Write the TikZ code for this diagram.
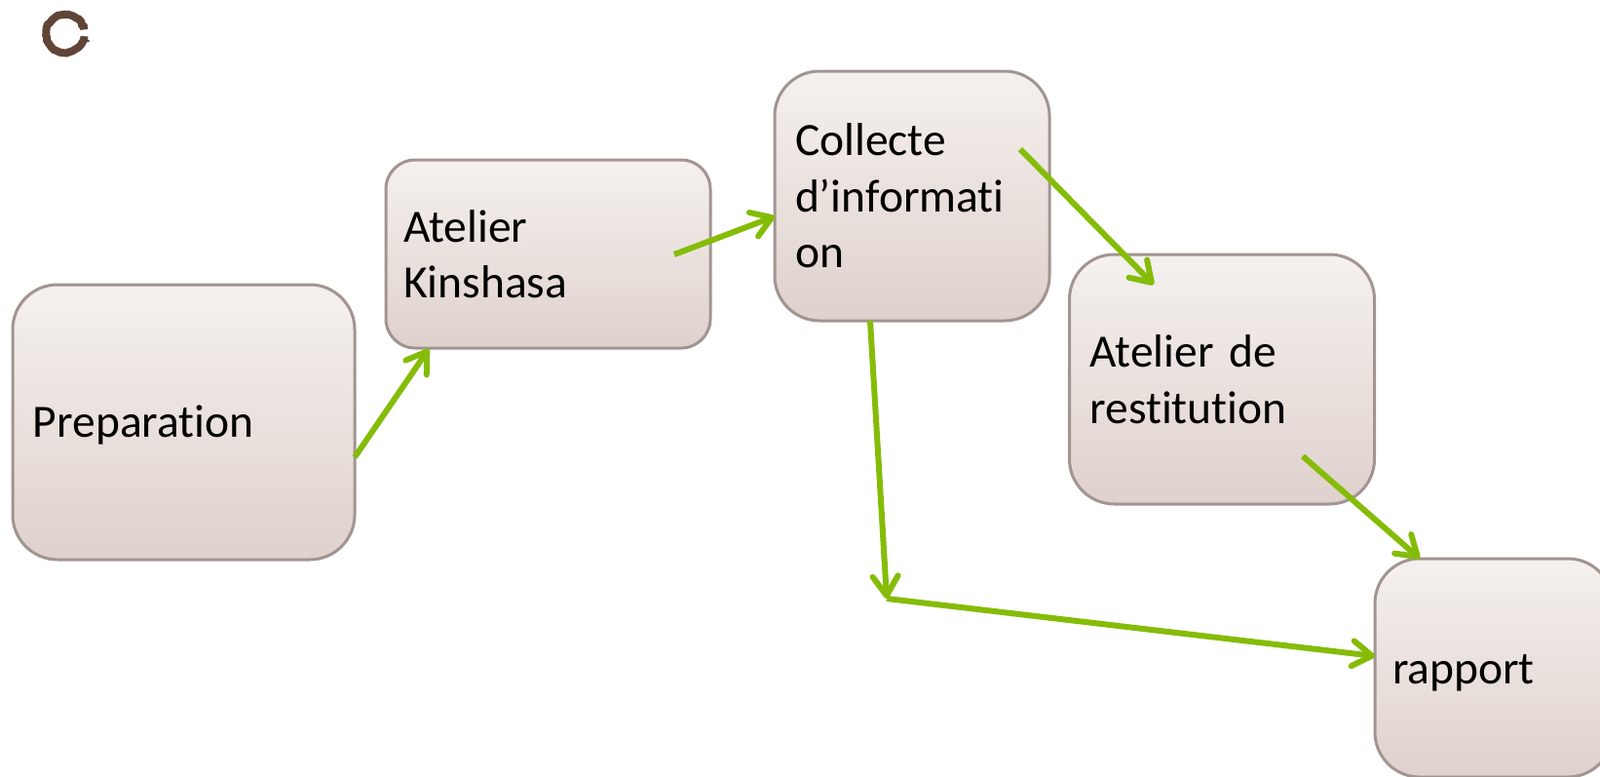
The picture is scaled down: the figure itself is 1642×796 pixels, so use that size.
\documentclass[tikz,border=0pt]{standalone}
\usepackage{fontspec}
\setmainfont[Ligatures=NoCommon]{Carlito}
\usetikzlibrary{calc}
\usetikzlibrary{arrows.meta}
\usetikzlibrary{decorations.pathmorphing}
\definecolor{boxTop}{HTML}{F5F1EE}
\definecolor{boxBottom}{HTML}{DFD1CD}
\definecolor{boxBorder}{HTML}{A29490}
\definecolor{arrowGreen}{HTML}{85BC08}
\definecolor{ringBrown}{HTML}{604536}
\tikzset{
	stagebox/.style 2 args={draw=boxBorder, line width=3pt, rectangle, rounded corners=46pt, top color=boxTop, bottom color=boxBottom, outer sep=0pt, inner xsep=21pt, inner ysep=0pt, minimum width=#1pt, minimum height=#2pt, text width=#1pt-42pt, align=left, font=\fontsize{47.5}{57.5}\selectfont},
	stagearrow/.style={draw=arrowGreen, line width=6pt, -{Straight Barb[round,length=20pt,width=26pt]}},
}
\begin{document}
\begin{tikzpicture}[x=1pt,y=-1pt]

	% page
	\useasboundingbox (0,0) rectangle (1642,796);

	% ring
	\def \ringRadius {19.5};
	\coordinate (ringCentre) at (67,34.5);
	\draw [ringBrown, line width=8pt, decorate, decoration={random steps, segment length=3pt, amplitude=0.7pt}] (ringCentre) ++(8:\ringRadius) arc (8:348:\ringRadius);
	\draw [ringBrown, line width=2pt] (ringCentre) ++(25:\ringRadius) -- ++(7,-1);

	% stages
	\node [stagebox={351}{282}, text height=38pt] (preparation) at (188.5,433) {Preparation};
	\node [stagebox={333}{193}, rounded corners=30pt, inner xsep=18pt, text width=297pt] (kinshasa) at (562.5,260.5) {Atelier\\Kinshasa};
	\node [stagebox={282}{256}] (collecte) at (936,201) {Collecte\\d’informati\\on};
	\node [stagebox={313}{256}] (restitution) at (1254,389) {Atelier de\\restitution};
	\node [stagebox={244}{224}, inner xsep=18pt, text width=208pt, text height=40pt] (rapport) at (1533,685) {rapport};

	% arrow ends
	\coordinate (preparationOut) at (364,469);
	\coordinate (kinshasaIn) at (440,358);
	\coordinate (kinshasaOut) at (692,261);
	\coordinate (collecteIn) at (795,222);
	\coordinate (collecteOut) at (1047,153);
	\coordinate (restitutionIn) at (1184,292);
	\coordinate (collecteDown) at (893,329);
	\coordinate (bend) at (910,614);
	\coordinate (restitutionOut) at (1337,468);
	\coordinate (rapportTop) at (1457,573);
	\coordinate (rapportIn) at (1411,673);

	% arrows
	\draw [stagearrow] (preparationOut) -- (kinshasaIn);
	\draw [stagearrow] (kinshasaOut) -- (collecteIn);
	\draw [stagearrow] (collecteOut) -- (restitutionIn);
	\draw [stagearrow] (restitutionOut) -- (rapportTop);
	\draw [stagearrow] (collecteDown) -- (bend);
	\draw [stagearrow] (bend) -- (rapportIn);

\end{tikzpicture}
\end{document}
